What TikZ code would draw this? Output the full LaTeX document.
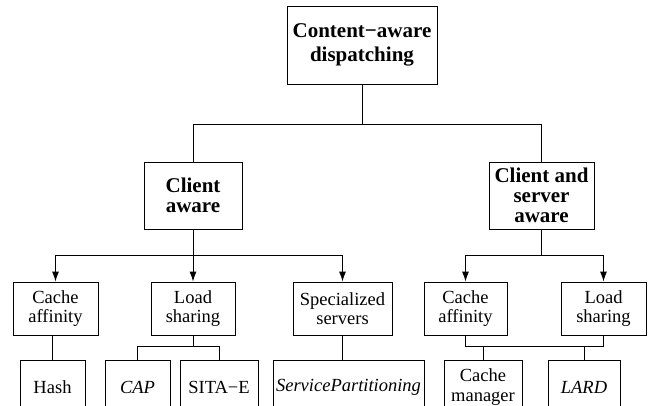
\documentclass[tikz,border=0pt]{standalone}
\usepackage{fontspec}
\setmainfont{Liberation Serif}
\usetikzlibrary{arrows.meta}

\tikzset{
  box/.style={draw, line width=0.9pt, inner sep=0pt, align=center,
    font=\fontsize{18.5}{19.5}\selectfont},
  headbox/.style={box, font=\fontsize{21}{20}\selectfont\bfseries},
  link/.style={line width=0.9pt},
  arrowlink/.style={link, -{Latex[length=10pt,width=7pt]}}
}

\begin{document}
\begin{tikzpicture}[x=1pt,y=-1pt]
\useasboundingbox (0,0) rectangle (648,406);
\clip (0,0) rectangle (648,406);

% top of the hierarchy
\node[headbox, minimum width=150pt, minimum height=78pt,
      font=\fontsize{21}{24}\selectfont\bfseries] (root) at (362,45)
  {Content−aware\\dispatching};

% second level
\node[headbox, minimum width=98pt, minimum height=67pt] (client) at (193,195.5)
  {Client\\aware};
\node[headbox, minimum width=105pt, minimum height=67pt] (clisrv) at (541.5,195.5)
  {Client and\\server\\aware};

% third level
\node[box, minimum width=85pt, minimum height=53pt] (caL) at (55.5,308.5) {Cache\\affinity};
\node[box, minimum width=84pt, minimum height=53pt] (lsL) at (193,308.5) {Load\\sharing};
\node[box, minimum width=99pt, minimum height=53pt] (spec) at (342.5,308.5) {Specialized\\servers};
\node[box, minimum width=83pt, minimum height=53pt] (caR) at (465.5,308.5) {Cache\\affinity};
\node[box, minimum width=85pt, minimum height=53pt] (lsR) at (603.5,308.5) {Load\\sharing};

% policies
\node[box, minimum width=65pt, minimum height=54pt] (hash) at (52.5,387) {Hash};
\node[box, minimum width=65pt, minimum height=54pt] (cap) at (137.5,387) {\itshape CAP};
\node[box, minimum width=78pt, minimum height=54pt] (sita) at (219,387) {SITA−E};
\node[box, minimum width=151pt, minimum height=54pt] (spart) at (348.5,387) {\itshape ServicePartitioning};
\node[box, minimum width=78pt, minimum height=54pt] (cman) at (483,387) {Cache\\manager};
\node[box, minimum width=72pt, minimum height=54pt] (lard) at (584,387) {\itshape LARD};

% bus heights
\coordinate (j0) at (0,124);
\coordinate (j1) at (0,255);
\coordinate (j2) at (0,346);

% root to second level
\draw[link] (root.south) -- (root.south |- j0);
\draw[link] (client.north) -- (client.north |- j0) -- (clisrv.north |- j0) -- (clisrv.north);

% client aware to its techniques
\draw[link] (client.south) -- (client.south |- j1);
\draw[link] (caL.north |- j1) -- (spec.north |- j1);
\draw[arrowlink] (caL.north |- j1) -- (caL.north);
\draw[arrowlink] (lsL.north |- j1) -- (lsL.north);
\draw[arrowlink] (spec.north |- j1) -- (spec.north);

% client and server aware to its techniques
\draw[link] (clisrv.south) -- (clisrv.south |- j1);
\draw[link] (caR.north |- j1) -- (lsR.north |- j1);
\draw[arrowlink] (caR.north |- j1) -- (caR.north);
\draw[arrowlink] (lsR.north |- j1) -- (lsR.north);

% techniques to policies
\draw[link] (hash.north) -- (hash.north |- caL.south);
\draw[link] (lsL.south) -- (lsL.south |- j2);
\draw[link] (cap.north) -- (cap.north |- j2) -- (sita.north |- j2) -- (sita.north);
\draw[link] (spec.south) -- (spec.south |- spart.north);
\draw[link] (caR.south) -- (caR.south |- j2) -- (lsR.south |- j2) -- (lsR.south);
\draw[link] (cman.north) -- (cman.north |- j2);
\draw[link] (lard.north) -- (lard.north |- j2);
\end{tikzpicture}
\end{document}
